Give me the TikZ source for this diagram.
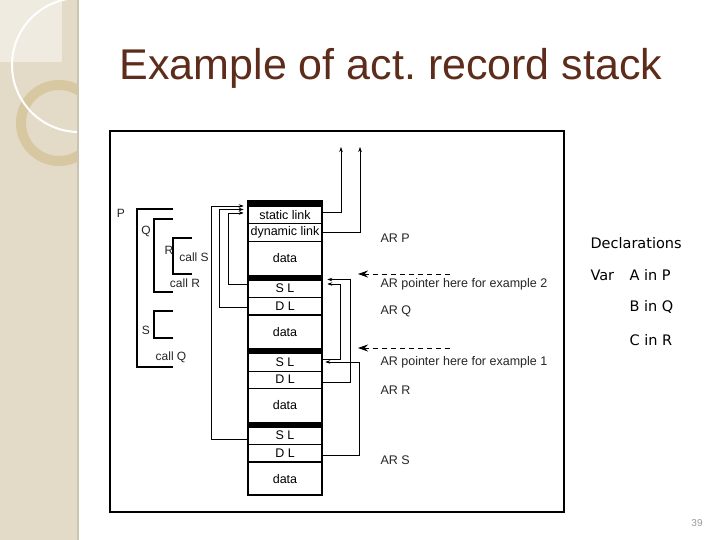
\documentclass[tikz,border=0pt]{standalone}
\usepackage{fontspec}
\setmainfont{Liberation Sans}
\newfontfamily\declfont{DejaVu Sans}
\usetikzlibrary{arrows.meta}
\definecolor{sidebar}{RGB}{227,219,200}
\definecolor{sideedge}{RGB}{204,196,178}
\definecolor{ringtan}{RGB}{216,200,162}
\definecolor{titlebrown}{RGB}{94,44,26}
\frenchspacing

\begin{document}
\begin{tikzpicture}[x=1pt, y=-1pt,
    cell/.style={draw, line width=0.6pt, minimum width=74pt, inner sep=0pt, anchor=north, font=\fontsize{12.5}{12.5}\selectfont},
    link/.style={line width=0.6pt, -{Stealth[length=5pt,width=3.5pt]}},
    ptr/.style={line width=0.9pt, dash pattern=on 5pt off 4pt, -{Stealth[length=10pt,width=7pt,inset=3.5pt]}},
    lbl/.style={anchor=west, font=\fontsize{12.5}{12.5}\selectfont, text=black!85},
    code/.style={font=\fontsize{12}{12}\selectfont, text=black!85},
    decl/.style={anchor=west, font=\declfont\fontsize{14.5}{14.5}\selectfont},
    bracket/.style={line width=1.3pt}]

    % Slide background
    \useasboundingbox (0,0) rectangle (720,540);
    \fill[white] (0,0) rectangle (720,540);
    \fill[sidebar] (0,0) rectangle (78,540);
    \fill[sideedge] (77,0) rectangle (79,540);
    \begin{scope}
        \clip (0,0) rectangle (77,540);
        \fill[white!45!sidebar] (0,0) rectangle (62,62);
        \draw[ringtan, line width=10pt] (59,123) circle (38);
        \draw[white, line width=2pt] (79,65) circle (67);
    \end{scope}

    % Title
    \node[font=\fontsize{43}{43}\selectfont, text=titlebrown] (title) at (391,68) {Example of act. record stack};

    % Frame
    \draw[line width=2pt] (110,131) rectangle (564,512);

    % Program text
    \draw[bracket] (173,209) -| (137,367) -- (173,367);
    \draw[bracket] (173,219) -| (154,292) -- (173,292);
    \draw[bracket] (192,238) -| (173,274) -- (192,274);
    \draw[bracket] (173,311) -| (154,338) -- (173,338);
    \node[code] (progP) at (121,213) {P};
    \node[code] (progQ) at (146,231) {Q};
    \node[code] (progR) at (169,250) {R};
    \node[code] (progS) at (146,330) {S};
    \node[code] (callS) at (194,257) {call S};
    \node[code] (callR) at (185,283) {call R};
    \node[code] (callQ) at (171,357) {call Q};

    % AR P
    \fill (248,201) rectangle (322,206);
    \node[cell, minimum height=17.5pt] (pSL) at (285,206) {static link};
    \node[cell, minimum height=17.5pt] (pDL) at (285,223.5) {dynamic link};
    \node[cell, minimum height=33.5pt] (pData) at (285,241) {data};

    % AR Q
    \fill (248,274.5) rectangle (322,279.5);
    \node[cell, minimum height=17.5pt] (qSL) at (285,279.5) {S L};
    \node[cell, minimum height=17.5pt] (qDL) at (285,297) {D L};
    \node[cell, minimum height=33.5pt] (qData) at (285,314.5) {data};

    % AR R
    \fill (248,348) rectangle (322,353);
    \node[cell, minimum height=17.5pt] (rSL) at (285,353) {S L};
    \node[cell, minimum height=17.5pt] (rDL) at (285,370.5) {D L};
    \node[cell, minimum height=33.5pt] (rData) at (285,388) {data};

    % AR S
    \fill (248,421.5) rectangle (322,426.5);
    \node[cell, minimum height=17.5pt] (sSL) at (285,426.5) {S L};
    \node[cell, minimum height=17.5pt] (sDL) at (285,444) {D L};
    \node[cell, minimum height=33.5pt] (sData) at (285,461.5) {data};

    % Stack outline
    \draw[line width=1.5pt] (pDL.south west) -- (pDL.south east);
    \draw[line width=1.5pt] (qDL.south west) -- (qDL.south east);
    \draw[line width=1.5pt] (rDL.south west) -- (rDL.south east);
    \draw[line width=1.5pt] (sDL.south west) -- (sDL.south east);
    \draw[line width=2pt] (248,201) rectangle (322,495);

    % Links on the left
    \draw[link, shorten >=4pt] ([yshift=-4pt]sSL.west) -- ++(-36,0) |- (pSL.north west);
    \draw[link, shorten >=4pt] ([yshift=-1pt]qDL.west) -- ++(-28,0) |- ([yshift=-3.5pt]pSL.north west);
    \draw[link, shorten >=4pt] ([yshift=4pt]qSL.west) -- ++(-19,0) |- ([yshift=-7pt]pSL.north west);

    % Links on the right
    \coordinate (slUp) at (341,147);
    \coordinate (dlUp) at (360,147);
    \draw[link] ([yshift=3pt]pSL.east) -| (slUp);
    \draw[link] (pDL.east) -| (dlUp);
    \draw[link, shorten >=5pt] ([yshift=3pt]rSL.east) -- ++(18,0) |- ([yshift=-4.5pt]qSL.north east);
    \draw[link, shorten >=5pt] ([yshift=-3pt]rDL.east) -- ++(28,0) |- (qSL.north east);
    \draw[link, shorten >=3pt] ([yshift=-2pt]sDL.east) -- ++(37,0) |- ([yshift=-9pt]rSL.north east);

    % Record labels
    \node[lbl] (arP) at (377,238) {AR P};
    \node[lbl] (ptrTwo) at (377,284) {AR pointer here for example 2};
    \node[lbl] (arQ) at (377,311) {AR Q};
    \node[lbl] (ptrOne) at (377,362) {AR pointer here for example 1};
    \node[lbl] (arR) at (377,390) {AR R};
    \node[lbl] (arS) at (377,460) {AR S};

    % AR pointers
    \coordinate (ptrTwoTail) at (450,274);
    \coordinate (ptrTwoHead) at (358,274);
    \coordinate (ptrOneTail) at (450,348);
    \coordinate (ptrOneHead) at (358,348);
    \draw[ptr] (ptrTwoTail) -- (ptrTwoHead);
    \draw[ptr] (ptrOneTail) -- (ptrOneHead);

    % Declarations
    \node[decl] (declHead) at (587,243) {Declarations};
    \node[decl] (declVar) at (587,275) {Var};
    \node[decl] (declA) at (626,275) {A in P};
    \node[decl] (declB) at (626,307) {B in Q};
    \node[decl] (declC) at (626,340) {C in R};

    % Page number
    \node[font=\fontsize{10}{10}\selectfont, text=black!40] (pageNum) at (697,523) {39};
\end{tikzpicture}
\end{document}
